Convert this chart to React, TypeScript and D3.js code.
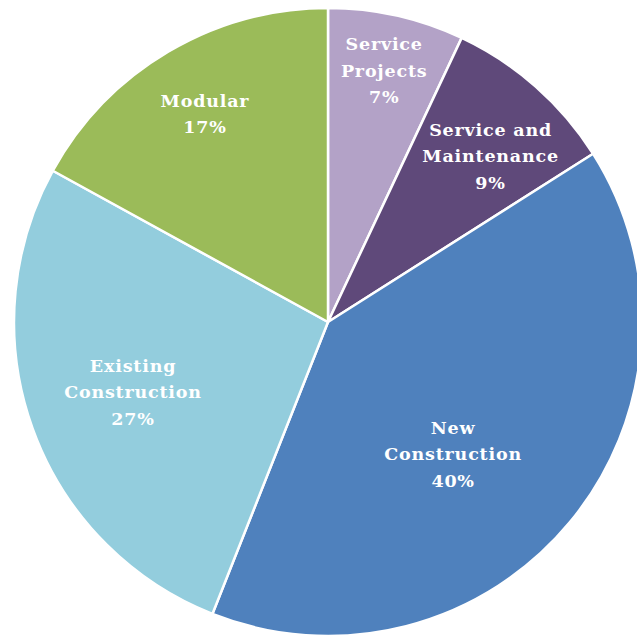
import React, { useRef, useEffect } from 'react';
import * as d3 from 'd3';

const categories = ['Service Projects', 'Service and Maintenance', 'New Construction', 'Existing Construction', 'Modular'];
const shares = [7, 9, 40, 27, 17];
const labelLines = [
  ['Service', 'Projects', '7%'],
  ['Service and', 'Maintenance', '9%'],
  ['New', 'Construction', '40%'],
  ['Existing', 'Construction', '27%'],
  ['Modular', '17%'],
];
const colors = ['#b3a2c7', '#5f497a', '#4f81bd', '#93cddd', '#9bbb59'];

// label placement tweaks (fraction of radius, angle nudge in degrees)
const labelRadius = [0.82, 0.74, 0.58, 0.66, 0.77];
const labelNudge = [0, 3, 7, 0, 0];

const W = 637;
const H = 637;

export default function App() {
  const svgRef = useRef<SVGSVGElement>(null);

  useEffect(() => {
    if (!svgRef.current) return;
    const svg = d3.select(svgRef.current);
    svg.selectAll('*').remove();

    const cx = 328;
    const cy = 322;
    const r = 314;

    const data = categories.map((c, i) => ({ name: c, value: shares[i], i }));
    const pie = d3.pie<typeof data[0]>().value(d => d.value).sort(null);
    const arcs = pie(data);
    const arc = d3.arc<d3.PieArcDatum<typeof data[0]>>().innerRadius(0).outerRadius(r);

    const g = svg.append('g').attr('transform', `translate(${cx},${cy})`);

    g.selectAll('path.slice')
      .data(arcs)
      .enter()
      .append('path')
      .attr('class', 'slice')
      .attr('d', arc)
      .attr('fill', d => colors[d.data.i])
      .attr('stroke', '#ffffff')
      .attr('stroke-width', 2.5)
      .attr('stroke-linejoin', 'round');

    const lineH = 26.5;
    arcs.forEach(a => {
      const i = a.data.i;
      const mid = (a.startAngle + a.endAngle) / 2 + (labelNudge[i] * Math.PI) / 180;
      const rr = r * labelRadius[i];
      const x = Math.sin(mid) * rr;
      const y = -Math.cos(mid) * rr;
      const lines = labelLines[i];
      const t = g.append('text')
        .attr('text-anchor', 'middle')
        .attr('font-family', '"DejaVu Serif", serif')
        .attr('font-weight', 'bold')
        .attr('font-size', '17.5px')
        .attr('letter-spacing', '0.8px')
        .attr('fill', '#ffffff');
      lines.forEach((ln, k) => {
        t.append('tspan')
          .attr('x', x)
          .attr('y', y + (k - (lines.length - 1) / 2) * lineH)
          .attr('dominant-baseline', 'central')
          .text(ln);
      });
    });
  }, []);

  return (
    <svg
      ref={svgRef}
      width={W}
      height={H}
      style={{ position: 'absolute', left: 0, top: 0, background: '#ffffff', display: 'block' }}
    />
  );
}
